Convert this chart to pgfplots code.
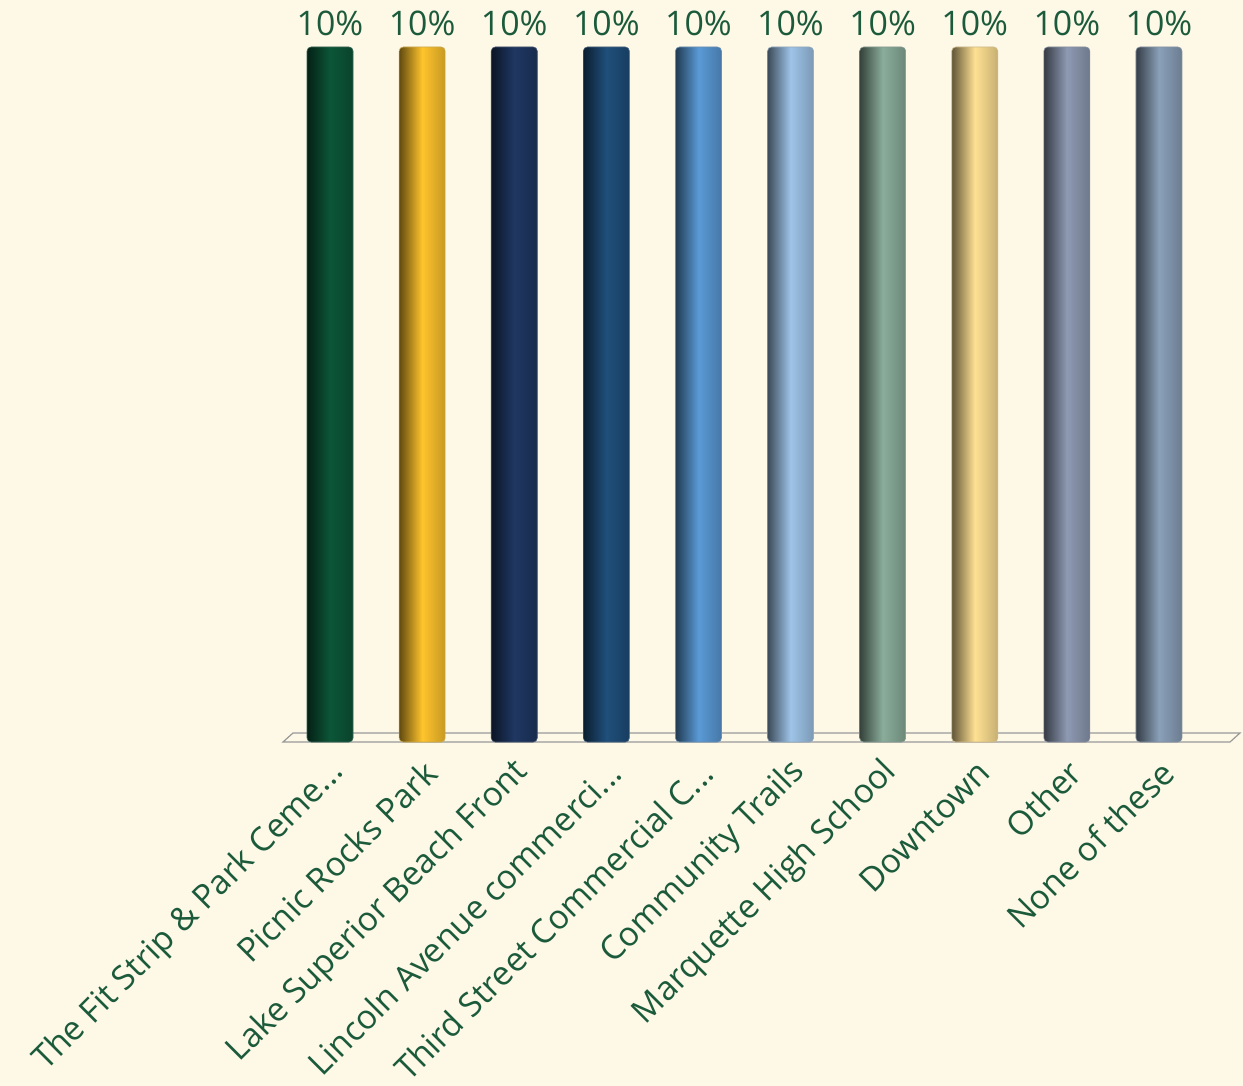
\documentclass[border=0pt]{standalone}
\usepackage{pgfplots}
\pgfplotsset{compat=1.18}
\usepackage{fontspec}
\setmainfont{Open Sans}
\definecolor{bg}{HTML}{FEF8E7}
\definecolor{txt}{HTML}{1B5B3B}
\definecolor{c1}{HTML}{0C5638}
\definecolor{c2}{HTML}{FFC42D}
\definecolor{c3}{HTML}{1F3762}
\definecolor{c4}{HTML}{1F4F7B}
\definecolor{c5}{HTML}{5A9AD6}
\definecolor{c6}{HTML}{9EC4E8}
\definecolor{c7}{HTML}{8AAD9B}
\definecolor{c8}{HTML}{FFE193}
\definecolor{c9}{HTML}{8E9AB3}
\definecolor{c10}{HTML}{8AA0B9}
\newcommand{\dd}{.\kern0.5pt.\kern0.5pt.}
\pgfplotsset{
  cyl/.style={ybar, bar width=46bp, bar shift=0pt, draw=#1!60!gray, line width=0.6bp, rounded corners=4bp,
    left color=#1!38!black, right color=#1!78!black, middle color=#1}
}
\begin{document}
\begin{tikzpicture}
\fill[bg, use as bounding box] (-284bp,-344bp) rectangle (959bp,742bp);
\draw[black!40, line width=1.2bp, fill=bg] (-1bp,0) -- (946bp,0) -- (956bp,9bp) -- (9bp,9bp) -- cycle;
\begin{axis}[
  at={(0,0)}, anchor=south west,
  scale only axis, width=921bp, height=695bp,
  xmin=-0.5, xmax=9.5, ymin=0, ymax=10,
  axis line style={draw=none},
  ytick=\empty,
  xtick={0,1,2,3,4,5,6,7,8,9},
  xticklabels={The Fit Strip \& Park Ceme\dd,Picnic Rocks Park,Lake Superior Beach Front,Lincoln Avenue commerci\dd,Third Street Commercial C\dd,Community Trails,Marquette High School,Downtown,Other,None of these},
  major tick length=0pt,
  xticklabel style={font=\fontsize{33.5}{33.5}\selectfont, text=txt, xshift=9bp, yshift=-25bp, rotate=45, anchor=east, inner sep=0pt},
  clip=false,
  nodes near coords={\pgfmathprintnumber[assume math mode=true]{\pgfplotspointmeta}\%},
  every node near coord/.append style={font=\fontsize{34}{34}\selectfont, text=txt, anchor=south, inner sep=0pt, yshift=11bp},
]
\addplot[cyl=c1] coordinates {(0,10)};
\addplot[cyl=c2] coordinates {(1,10)};
\addplot[cyl=c3] coordinates {(2,10)};
\addplot[cyl=c4] coordinates {(3,10)};
\addplot[cyl=c5] coordinates {(4,10)};
\addplot[cyl=c6] coordinates {(5,10)};
\addplot[cyl=c7] coordinates {(6,10)};
\addplot[cyl=c8] coordinates {(7,10)};
\addplot[cyl=c9] coordinates {(8,10)};
\addplot[cyl=c10] coordinates {(9,10)};
\end{axis}
\end{tikzpicture}
\end{document}
